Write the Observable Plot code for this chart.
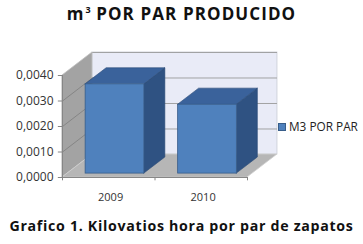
<!DOCTYPE html>
<html>
<head>
<meta charset="utf-8">
<script src="https://cdn.jsdelivr.net/npm/d3@7"></script>
<script src="https://cdn.jsdelivr.net/npm/@observablehq/plot@0.6"></script>
<style>
  html, body { margin: 0; padding: 0; background: #fff; }
  #wrap { position: relative; width: 363px; height: 244px; overflow: hidden; }
  #title { position: absolute; left: 0; top: 2px; width: 363px; text-align: center;
    font-family: "Open Sans", "DejaVu Sans", sans-serif; font-weight: 700; font-size: 17px; color: #111; letter-spacing: 1.1px; }
  #title sup { font-size: 9px; vertical-align: 7px; letter-spacing: 0; margin-left: 1px; }
  #chart { position: absolute; left: 0; top: 30px; }
  #legend { position: absolute; left: 278px; top: 118px; font-family: "Open Sans", sans-serif; font-size: 11.8px; color: #222; white-space: nowrap; }
  #legend span.sw { display: inline-block; width: 6px; height: 6px; background: #4F81BD; border: 1px solid #385D8A; vertical-align: 0px; margin-right: 3px; }
  #caption { position: absolute; left: 0; top: 216px; width: 363px; text-align: center;
    font-family: "Open Sans", "DejaVu Sans", sans-serif; font-weight: 700; font-size: 14.2px; color: #111; letter-spacing: 0.7px; }
</style>
</head>
<body>
<div id="wrap">
  <div id="title">m<sup>3</sup> POR PAR PRODUCIDO</div>
  <div id="chart"></div>
  <div id="legend"><span class="sw"></span>M3 POR PAR</div>
  <div id="caption">Grafico 1. Kilovatios hora por par de zapatos</div>
</div>
<script>
const categories = ["2009", "2010"];
const values = [0.0035, 0.0027];
const yTicks = [0, 0.001, 0.002, 0.003, 0.004];
const yTickLabels = ["0,0000", "0,0010", "0,0020", "0,0030", "0,0040"];

// 3D projection constants (depth offsets expressed in scale units)
const DX = 0.324;      // full depth, x units
const DY = 0.000902;   // full depth, y units
const F = 0.17, B = 0.87;  // bar front/back depth fractions
const X0 = 0.195, X1 = 0.83; // bar extent within category (front plane)
const YMAX = 0.004, N = categories.length;
const TICKX = 0.045, TICKY = 0.00013; // tick lengths in scale units

const bars = categories.map((c, i) => ({c, i, v: values[i]}));

const wallBack = [{x1: DX, x2: N + DX, y1: DY, y2: YMAX + DY}];
const wallLeft = [{x: 0, y1: 0, y2: YMAX}, {x: DX, y1: DY, y2: YMAX + DY}];
const floor = [{y: 0, x1: 0, x2: N}, {y: DY, x1: DX, x2: N + DX}];
const gridBack = yTicks.slice(1).map(t => ({y: t + DY}));
const gridLeft = yTicks.slice(1, -1).flatMap(t => [{t, x: 0, y: t}, {t, x: DX, y: t + DY}]);

const front = bars.map(d => ({...d, x1: d.i + X0 + F * DX, x2: d.i + X1 + F * DX, y1: F * DY, y2: d.v + F * DY}));
const tops = bars.flatMap(d => [
  {c: d.c, y: d.v + F * DY, x1: d.i + X0 + F * DX, x2: d.i + X1 + F * DX},
  {c: d.c, y: d.v + B * DY, x1: d.i + X0 + B * DX, x2: d.i + X1 + B * DX}
]);
const sides = bars.flatMap(d => [
  {c: d.c, x: d.i + X1 + F * DX, y1: F * DY, y2: d.v + F * DY},
  {c: d.c, x: d.i + X1 + B * DX, y1: B * DY, y2: d.v + B * DY}
]);

const plot = Plot.plot({
  width: 363,
  height: 175,
  marginLeft: 62,
  marginRight: 116,
  marginTop: 45,
  marginBottom: 28,
  x: {type: "linear", domain: [0, N], axis: null},
  y: {type: "linear", domain: [0, YMAX], axis: null},
  style: {background: "transparent", overflow: "visible"},
  marks: [
    Plot.rect(wallBack, {x1: "x1", x2: "x2", y1: "y1", y2: "y2", fill: "#E9EBF7", stroke: "#C9CCD6", strokeWidth: 0.8}),
    Plot.ruleY(gridBack, {y: "y", x1: DX, x2: N + DX, stroke: "#9A9A9A", strokeWidth: 0.9}),
    Plot.areaY(wallLeft, {x: "x", y1: "y1", y2: "y2", fill: "#A3A3A3", stroke: "#C0C0C0", strokeWidth: 0.8}),
    Plot.line(gridLeft, {x: "x", y: "y", z: "t", stroke: "#7E7E7E", strokeWidth: 0.8}),
    Plot.areaX(floor, {y: "y", x1: "x1", x2: "x2", fill: "#B6B6B6", stroke: "#D0D0D0", strokeWidth: 0.8}),
    Plot.areaY(sides, {x: "x", y1: "y1", y2: "y2", z: "c", fill: "#2F5282", stroke: "#2A4A75", strokeWidth: 0.6}),
    Plot.areaX(tops, {y: "y", x1: "x1", x2: "x2", z: "c", fill: "#3A629B", stroke: "#2A4A75", strokeWidth: 0.6}),
    Plot.rect(front, {x1: "x1", x2: "x2", y1: "y1", y2: "y2", fill: "#4F81BD", stroke: "#385D8A", strokeWidth: 0.8}),
    // axes
    Plot.ruleX([0], {y1: 0, y2: YMAX, stroke: "#868686"}),
    Plot.ruleY([0], {x1: 0, x2: N, stroke: "#868686"}),
    Plot.ruleY(yTicks, {y: d => d, x1: -TICKX, x2: 0, stroke: "#868686"}),
    Plot.text(yTicks, {x: 0, y: d => d, text: (d, i) => yTickLabels[i], dx: -9, textAnchor: "end", fontSize: 12, fill: "#333", fontFamily: "Open Sans, sans-serif"}),
    Plot.ruleX(d3.range(N + 1), {x: d => d, y1: -TICKY, y2: 0, stroke: "#868686"}),
    Plot.text(bars, {x: d => d.i + 0.52, y: 0, text: "c", dy: 20, fontSize: 11, fill: "#333", fontFamily: "Open Sans, sans-serif"})
  ]
});
document.getElementById("chart").append(plot);
</script>
</body>
</html>
